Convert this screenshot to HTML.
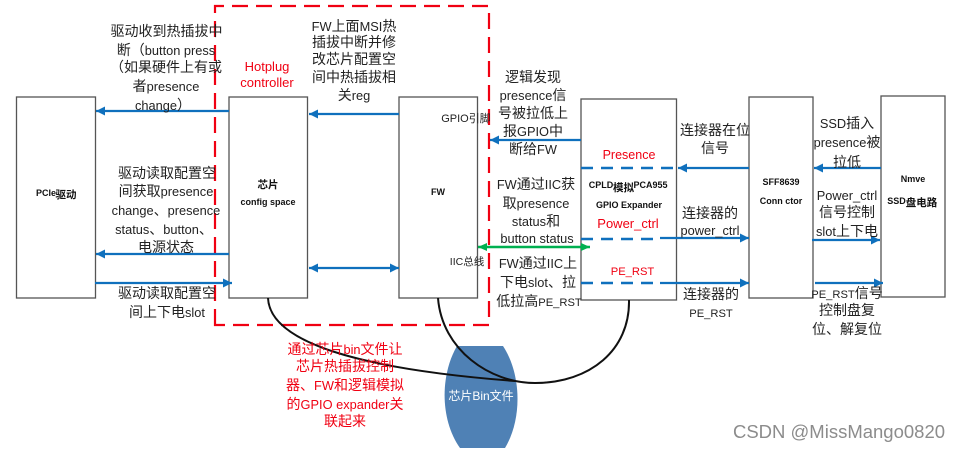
<!DOCTYPE html>
<html><head><meta charset="utf-8"><style>
html,body{margin:0;padding:0;background:#fff;width:960px;height:451px;overflow:hidden}
svg{display:block}
text{font-family:"Liberation Sans","Noto Sans CJK SC",sans-serif;font-size:14px;fill:#222;text-anchor:middle}
tspan.l,text.l{font-size:12.8px}
tspan.p,text.p{font-size:11.2px}
.r{fill:#f00012}
text.b{font-weight:bold;font-size:9px;fill:#111}
text.bc{font-weight:bold;font-size:10.5px;fill:#111}
.box{fill:#fff;stroke:#555;stroke-width:1.3}
.bl{stroke:#0f70bd;stroke-width:2.2;fill:none}
.dash{stroke:#0f70bd;stroke-width:2.4;stroke-dasharray:12 8;fill:none}
</style></head><body>
<svg width="960" height="451" viewBox="0 0 960 451" xmlns="http://www.w3.org/2000/svg">
<defs>
<marker id="a" markerUnits="userSpaceOnUse" markerWidth="10" markerHeight="10" refX="9" refY="4.5" orient="auto-start-reverse"><path d="M0 0L9 4.5L0 9Z" fill="#0f70bd"/></marker>
<marker id="g" markerUnits="userSpaceOnUse" markerWidth="10" markerHeight="10" refX="9" refY="4" orient="auto-start-reverse"><path d="M0 0L9 4L0 8Z" fill="#00b050"/></marker>
</defs>
<rect class="box" x="16.5" y="97" width="79" height="201"/>
<rect class="box" x="229" y="97" width="78.5" height="201"/>
<rect class="box" x="399" y="97" width="78.5" height="201"/>
<rect class="box" x="581" y="99" width="95.5" height="201"/>
<rect class="box" x="749" y="97" width="64" height="201"/>
<rect class="box" x="881" y="96" width="64" height="201"/>
<path d="M457 346H503C522 375 522 420 505 448H460C440 420 440 375 457 346Z" fill="#4f81b5"/>
<path d="M215 325V6H489V325Z" fill="none" stroke="#f00012" stroke-width="2.2" stroke-dasharray="16 8"/>
<path class="bl" d="M229 111H96" marker-end="url(#a)"/>
<path class="bl" d="M399 114H309" marker-end="url(#a)"/>
<path class="bl" d="M581 140H490" marker-end="url(#a)"/>
<path class="bl" d="M229 254H96" marker-end="url(#a)"/>
<path class="bl" d="M95 283H232" marker-end="url(#a)"/>
<path class="bl" d="M309 268H399" marker-start="url(#a)" marker-end="url(#a)"/>
<path class="bl" d="M749 168H678" marker-end="url(#a)"/>
<path class="bl" d="M881 168H814" marker-end="url(#a)"/>
<path class="bl" d="M660 238H749" marker-end="url(#a)"/>
<path class="bl" d="M812 240H880" marker-end="url(#a)"/>
<path class="bl" d="M660 283H749" marker-end="url(#a)"/>
<path class="bl" d="M815 283H883" marker-end="url(#a)"/>
<path class="dash" d="M581 168H678"/>
<path class="dash" d="M581 239H660"/>
<path class="dash" d="M581 283H660"/>
<path d="M478 247H590" stroke="#00b050" stroke-width="2.4" fill="none" marker-start="url(#g)" marker-end="url(#g)"/>
<path d="M268 298C270 345 370 370 515 381" fill="none" stroke="#111" stroke-width="2"/>
<path d="M438 298C442 350 490 383 535 383C590 383 630 350 629 300" fill="none" stroke="#111" stroke-width="2"/>
<g>
<text x="166.5" y="36">驱动收到热插拔中</text>
<text x="166" y="55">断（<tspan class="l">button press</tspan></text>
<text x="166" y="72">（如果硬件上有或</text>
<text x="166" y="91">者<tspan class="l">presence</tspan></text>
<text x="163" y="110"><tspan class="l">change</tspan>）</text>
<text x="167" y="178">驱动读取配置空</text>
<text x="166" y="196">间获取<tspan class="l">presence</tspan></text>
<text x="166" y="215"><tspan class="l">change</tspan>、<tspan class="l">presence</tspan></text>
<text x="164" y="234"><tspan class="l">status</tspan>、<tspan class="l">button</tspan>、</text>
<text x="166" y="252">电源状态</text>
<text x="167" y="298">驱动读取配置空</text>
<text x="167" y="317">间上下电<tspan class="l">slot</tspan></text>
<text x="354" y="31"><tspan class="l">FW</tspan>上面<tspan class="l">MSI</tspan>热</text>
<text x="354" y="47">插拔中断并修</text>
<text x="354" y="64">改芯片配置空</text>
<text x="354" y="82">间中热插拔相</text>
<text x="354" y="100">关<tspan class="l">reg</tspan></text>
<text x="533" y="82">逻辑发现</text>
<text x="533" y="100"><tspan class="l">presence</tspan>信</text>
<text x="533" y="118">号被拉低上</text>
<text x="533" y="136">报<tspan class="l">GPIO</tspan>中</text>
<text x="533" y="154">断给<tspan class="l">FW</tspan></text>
<text x="536" y="189"><tspan class="l">FW</tspan>通过<tspan class="l">IIC</tspan>获</text>
<text x="536" y="208">取<tspan class="l">presence</tspan></text>
<text x="536" y="226"><tspan class="l">status</tspan>和</text>
<text class="l" x="537" y="243">button status</text>
<text x="538" y="268"><tspan class="l">FW</tspan>通过<tspan class="l">IIC</tspan>上</text>
<text x="538" y="287">下电<tspan class="l">slot</tspan>、拉</text>
<text x="539" y="306">低拉高<tspan class="p">PE_RST</tspan></text>
<text x="715" y="135">连接器在位</text>
<text x="715" y="153">信号</text>
<text x="710" y="218">连接器的</text>
<text class="l" x="710" y="235">power_ctrl</text>
<text x="711" y="299">连接器的</text>
<text class="p" x="711" y="317">PE_RST</text>
<text x="847" y="128"><tspan class="l">SSD</tspan>插入</text>
<text x="847" y="147"><tspan class="l">presence</tspan>被</text>
<text x="847" y="167">拉低</text>
<text class="l" x="847" y="200">Power_ctrl</text>
<text x="847" y="217">信号控制</text>
<text x="847" y="236"><tspan class="l">slot</tspan>上下电</text>
<text x="847" y="298"><tspan class="p">PE_RST</tspan>信号</text>
<text x="847" y="315">控制盘复</text>
<text x="847" y="334">位、解复位</text>
<text x="466" y="122" style="font-size:11px">GPIO引脚</text>
<text x="467" y="265" style="font-size:10.5px">IIC总线</text>
<text class="r" x="267" y="71" style="font-size:13px">Hotplug</text>
<text class="r" x="267" y="87" style="font-size:13px">controller</text>
<text class="r" x="629" y="159" style="font-size:12.5px">Presence</text>
<text class="r" x="628" y="228" style="font-size:13px">Power_ctrl</text>
<text class="r" x="632.5" y="275" style="font-size:11.2px">PE_RST</text>
<text class="r" x="345" y="354">通过芯片<tspan class="l">bin</tspan>文件让</text>
<text class="r" x="345" y="371">芯片热插拔控制</text>
<text class="r" x="345" y="390">器、<tspan class="l">FW</tspan>和逻辑模拟</text>
<text class="r" x="345" y="409">的<tspan class="l">GPIO expander</tspan>关</text>
<text class="r" x="345" y="426">联起来</text>
<text class="b" x="46" y="196">PCIe</text>
<text class="bc" x="66" y="198">驱动</text>
<text class="bc" x="268" y="188">芯片</text>
<text class="b" x="268" y="205">config space</text>
<text class="b" x="438" y="195">FW</text>
<text class="b" x="601" y="188">CPLD</text>
<text class="bc" x="623.5" y="191">模拟</text>
<text class="b" x="650.5" y="188">PCA955</text>
<text class="b" x="629" y="208">GPIO Expander</text>
<text class="b" x="781" y="185">SFF8639</text>
<text class="b" x="781" y="204">Conn ctor</text>
<text class="b" x="913" y="182">Nmve</text>
<text class="b" x="896.5" y="204">SSD</text>
<text class="bc" x="921.5" y="206">盘电路</text>
<text x="481" y="400" style="fill:#fff;font-size:12px">芯片Bin文件</text>
<text x="839" y="438" style="fill:#8c8c8c;font-size:18.5px">CSDN @MissMango0820</text>
</g>
</svg>
</body></html>
